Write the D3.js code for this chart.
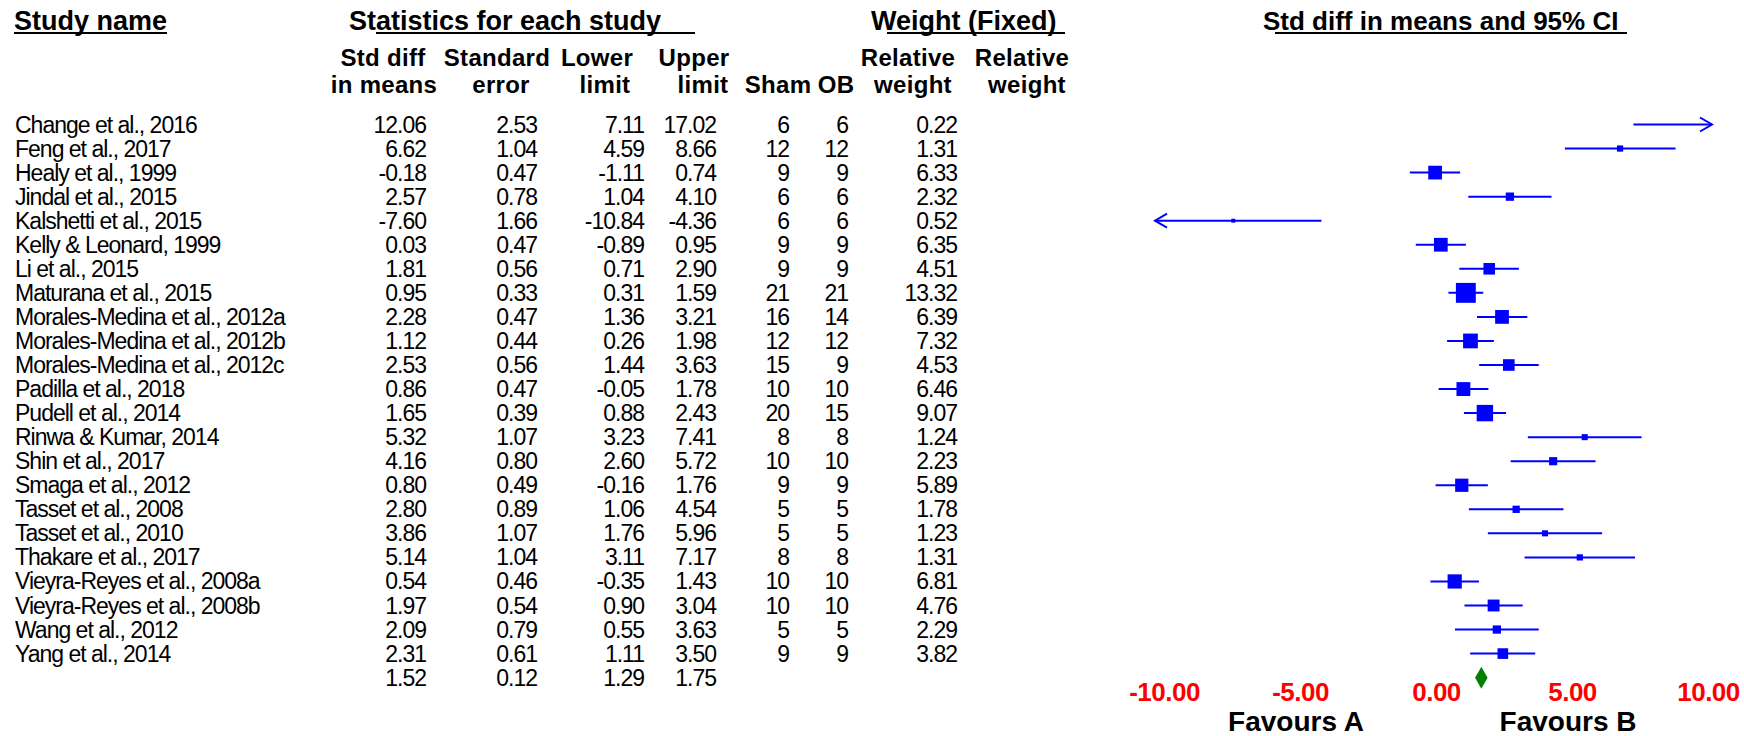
<!DOCTYPE html>
<html>
<head>
<meta charset="utf-8">
<script src="https://cdn.jsdelivr.net/npm/d3@7/dist/d3.min.js"></script>
<style>
  body { margin: 0; background: #fff; }
  svg text { font-family: 'Liberation Sans', Arial, sans-serif; }
</style>
</head>
<body>
<div id="chart"></div>
<script>
const studies = [
  'Change et al., 2016', 'Feng et al., 2017', 'Healy et al., 1999', 'Jindal et al., 2015',
  'Kalshetti et al., 2015', 'Kelly & Leonard, 1999', 'Li et al., 2015', 'Maturana et al., 2015',
  'Morales-Medina et al., 2012a', 'Morales-Medina et al., 2012b', 'Morales-Medina et al., 2012c',
  'Padilla et al., 2018', 'Pudell et al., 2014', 'Rinwa & Kumar, 2014', 'Shin et al., 2017',
  'Smaga et al., 2012', 'Tasset et al., 2008', 'Tasset et al., 2010', 'Thakare et al., 2017',
  'Vieyra-Reyes et al., 2008a', 'Vieyra-Reyes et al., 2008b', 'Wang et al., 2012', 'Yang et al., 2014'
]
const stdDiff = [12.06, 6.62, -0.18, 2.57, -7.60, 0.03, 1.81, 0.95, 2.28, 1.12, 2.53, 0.86, 1.65, 5.32, 4.16, 0.80, 2.80, 3.86, 5.14, 0.54, 1.97, 2.09, 2.31]
const stdErr = [2.53, 1.04, 0.47, 0.78, 1.66, 0.47, 0.56, 0.33, 0.47, 0.44, 0.56, 0.47, 0.39, 1.07, 0.80, 0.49, 0.89, 1.07, 1.04, 0.46, 0.54, 0.79, 0.61]
const lower = [7.11, 4.59, -1.11, 1.04, -10.84, -0.89, 0.71, 0.31, 1.36, 0.26, 1.44, -0.05, 0.88, 3.23, 2.60, -0.16, 1.06, 1.76, 3.11, -0.35, 0.90, 0.55, 1.11]
const upper = [17.02, 8.66, 0.74, 4.10, -4.36, 0.95, 2.90, 1.59, 3.21, 1.98, 3.63, 1.78, 2.43, 7.41, 5.72, 1.76, 4.54, 5.96, 7.17, 1.43, 3.04, 3.63, 3.50]
const sham = [6, 12, 9, 6, 6, 9, 9, 21, 16, 12, 15, 10, 20, 8, 10, 9, 5, 5, 8, 10, 10, 5, 9]
const ob = [6, 12, 9, 6, 6, 9, 9, 21, 14, 12, 9, 10, 15, 8, 10, 9, 5, 5, 8, 10, 10, 5, 9]
const relWeight = [0.22, 1.31, 6.33, 2.32, 0.52, 6.35, 4.51, 13.32, 6.39, 7.32, 4.53, 6.46, 9.07, 1.24, 2.23, 5.89, 1.78, 1.23, 1.31, 6.81, 4.76, 2.29, 3.82]

// fixed effect summary: estimate, standard error, lower, upper
const summaryStats = [1.52, 0.12, 1.29, 1.75]

const xTicks = [-10, -5, 0, 5, 10]
const favours = ['Favours A', 'Favours B']

const width = 1744
const height = 736
const bodySize = 23
const headSize = 24

const fmt = d3.formatLocale({ decimal: '.', thousands: ',', grouping: [3], currency: ['', ''], minus: '-' }).format('.2f')

const svg = d3.select('#chart')
  .append('svg')
  .attr('width', width)
  .attr('height', height)
  .style('background-color', '#FFF')

// one row per study, plus the summary row
const y = d3.scaleLinear()
  .domain([0, studies.length])
  .range([124.5, 124.5 + 24.05 * studies.length])

const x = d3.scaleLinear()
  .domain([-10, 10])
  .range([1168, 1712])

const boxSide = d3.scaleSqrt()
  .domain([0, 1])
  .range([0, 5.45])

// Title row with the odd CMA underlines
const titles = [
  { text: 'Study name', x: 14, size: 27, line: [14, 167] },
  { text: 'Statistics for each study', x: 349, size: 27, line: [376, 695] },
  { text: 'Weight (Fixed)', x: 871, size: 27, line: [887, 1065] },
  { text: 'Std diff in means and 95% CI', x: 1263, size: 26, line: [1275, 1627] }
]

const titleG = svg.append('g')
titleG.selectAll('text')
  .data(titles)
  .join('text')
  .attr('x', d => d.x)
  .attr('y', 30)
  .attr('font-size', d => d.size)
  .attr('font-weight', 'bold')
  .text(d => d.text)
titleG.selectAll('line')
  .data(titles)
  .join('line')
  .attr('x1', d => d.line[0])
  .attr('x2', d => d.line[1])
  .attr('y1', 33)
  .attr('y2', 33)
  .attr('stroke', '#000')
  .attr('stroke-width', 2)

// Column headers and values
const columns = [
  { head: ['Std diff', 'in means'], cx: [383, 384], right: 426, values: stdDiff.map(fmt), total: fmt(summaryStats[0]) },
  { head: ['Standard', 'error'], cx: [497, 501], right: 537, values: stdErr.map(fmt), total: fmt(summaryStats[1]) },
  { head: ['Lower', 'limit'], cx: [597, 605], right: 644, values: lower.map(fmt), total: fmt(summaryStats[2]) },
  { head: ['Upper', 'limit'], cx: [694, 703], right: 716, values: upper.map(fmt), total: fmt(summaryStats[3]) },
  { head: ['', 'Sham'], cx: [0, 778], right: 789, values: sham.map(String), total: '' },
  { head: ['', 'OB'], cx: [0, 836], right: 848, values: ob.map(String), total: '' },
  { head: ['Relative', 'weight'], cx: [908, 913], right: 957, values: relWeight.map(fmt), total: '' },
  { head: ['Relative', 'weight'], cx: [1022, 1027], right: 1070, values: [], total: '' }
]

const headG = svg.append('g')
  .attr('font-size', headSize)
  .attr('font-weight', 'bold')
  .attr('letter-spacing', 0.3)
  .attr('text-anchor', 'middle')
columns.forEach(col => {
  col.head.forEach((line, k) => {
    if (!line) return
    headG.append('text')
      .attr('x', col.cx[k])
      .attr('y', 66 + k * 27)
      .text(line)
  })
})

const body = svg.append('g')
  .attr('font-size', bodySize)
  .attr('letter-spacing', -1)

body.selectAll('text.name')
  .data(studies)
  .join('text')
  .attr('class', 'name')
  .attr('x', 15)
  .attr('y', (d, i) => y(i) + 8)
  .text(d => d)

columns.forEach(col => {
  const cells = col.values.concat(col.total ? [col.total] : [])
  body.append('g')
    .attr('text-anchor', 'end')
    .selectAll('text')
    .data(cells)
    .join('text')
    .attr('x', col.right)
    .attr('y', (d, i) => y(i) + 8)
    .text(d => d)
})

// Forest plot
const rows = studies.map((name, i) => ({
  i,
  est: stdDiff[i],
  lo: lower[i],
  hi: upper[i],
  w: relWeight[i]
}))
const [xMin, xMax] = x.domain()
// the plot area runs a little past -10 on the left
const leftEdge = x(xMin) - 13
const rightEdge = x(xMax)

const plot = svg.append('g')
  .attr('stroke', '#0000FF')
  .attr('fill', '#0000FF')

plot.selectAll('line')
  .data(rows)
  .join('line')
  .attr('x1', d => d.lo < xMin ? leftEdge : x(d.lo))
  .attr('x2', d => d.hi > xMax ? rightEdge : x(d.hi))
  .attr('y1', d => y(d.i))
  .attr('y2', d => y(d.i))
  .attr('stroke-width', 2)

// open arrow heads where the interval runs off the scale
const arrowPath = (tipX, cy, dir) => {
  const p = d3.path()
  p.moveTo(tipX - dir * 12, cy - 7)
  p.lineTo(tipX, cy)
  p.lineTo(tipX - dir * 12, cy + 7)
  return p.toString()
}
plot.selectAll('path.arrow')
  .data(rows.filter(d => d.lo < xMin || d.hi > xMax))
  .join('path')
  .attr('class', 'arrow')
  .attr('fill', 'none')
  .attr('stroke-width', 2)
  .attr('d', d => d.hi > xMax ? arrowPath(rightEdge, y(d.i), 1) : arrowPath(leftEdge, y(d.i), -1))

plot.selectAll('rect')
  .data(rows.filter(d => d.est >= xMin && d.est <= xMax))
  .join('rect')
  .attr('stroke', 'none')
  .attr('x', d => x(d.est) - boxSide(d.w) / 2)
  .attr('y', d => y(d.i) - boxSide(d.w) / 2)
  .attr('width', d => boxSide(d.w))
  .attr('height', d => boxSide(d.w))

const sy = y(studies.length)
svg.append('path')
  .attr('fill', '#008000')
  .attr('d', `M${x(summaryStats[2])},${sy}L${x(summaryStats[0])},${sy - 11}L${x(summaryStats[3])},${sy}L${x(summaryStats[0])},${sy + 11}Z`)

// Axis labels only, no axis line
const axisG = svg.append('g')
  .attr('transform', 'translate(0, 701)')
  .call(d3.axisBottom(x).tickValues(xTicks).tickFormat(fmt).tickSize(0).tickPadding(0))
axisG.select('.domain').remove()
axisG.selectAll('text')
  .attr('y', 0)
  .attr('dy', 0)
  .attr('dx', -4)
  .attr('fill', '#FF0000')
  .attr('font-size', 26)
  .attr('font-weight', 'bold')
  .attr('letter-spacing', -0.5)
  .style('font-family', "'Liberation Sans', Arial, sans-serif")

svg.append('g')
  .attr('font-size', 28)
  .attr('font-weight', 'bold')
  .attr('text-anchor', 'middle')
  .selectAll('text')
  .data(favours)
  .join('text')
  .attr('x', (d, i) => x(i === 0 ? -5 : 5) - 8)
  .attr('y', 731)
  .text(d => d)
</script>
</body>
</html>
